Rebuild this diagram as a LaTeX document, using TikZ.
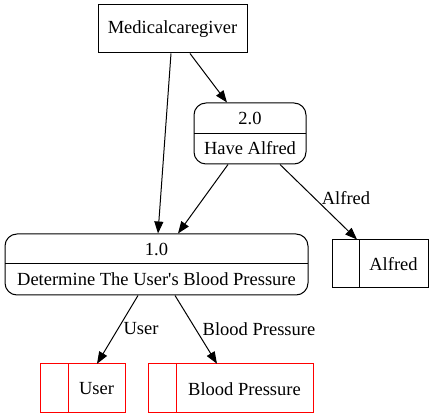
\documentclass[tikz,border=0pt]{standalone}
\usepackage{fontspec}
\setmainfont{Liberation Serif}
\usetikzlibrary{arrows.meta,calc}
\definecolor{storered}{RGB}{255,0,0}
\begin{document}
\begin{tikzpicture}[x=1pt,y=-1pt,
  every node/.style={font=\fontsize{18.5}{20}\selectfont, inner sep=0pt},
  entity/.style={draw, line width=1pt, minimum width=149pt, minimum height=48pt},
  proc/.style={draw, line width=1pt, rounded corners=12pt},
  store/.style={minimum height=48pt},
  redline/.style={draw=storered, line width=1pt},
  flow/.style={line width=1pt, -{Triangle[length=12pt,width=9pt]}}]
\useasboundingbox (0,0) rectangle (434,419);
% external entity
\node[entity] (mc) at (172.5,29) {Medicalcaregiver};
% process 2.0
\node[proc, minimum width=112pt, minimum height=61pt] (p2) at (250,133.5) {};
\draw[line width=1pt] (194,134) coordinate (p2dl) -- (306,134) coordinate (p2dr);
\node (p2a) at (250,118.5) {2.0};
\node (p2b) at (250,148.5) {Have Alfred};
% process 1.0
\node[proc, minimum width=303pt, minimum height=61pt] (p1) at (156.5,264.5) {};
\draw[line width=1pt] (5,264) coordinate (p1dl) -- (308,264) coordinate (p1dr);
\node (p1a) at (156.5,249.5) {1.0};
\node (p1b) at (156.5,279.5) {Determine The User\textquotesingle s Blood Pressure};
% stores
\node[store, draw, line width=1pt, minimum width=96pt] (sa) at (380,264) {};
\draw[line width=1pt] (359,240) coordinate (sad1) -- (359,288) coordinate (sad2);
\node (sat) at (393.5,264) {Alfred};
\node[store, minimum width=84pt] (su) at (83,388) {};
\draw[redline] (su.north west) rectangle (su.south east);
\draw[redline] (68,364) coordinate (sud1) -- (68,412) coordinate (sud2);
\node (sut) at (96.5,389) {User};
\node[store, minimum width=164pt] (sb) at (231,388) {};
\draw[redline] (sb.north west) rectangle (sb.south east);
\draw[redline] (176,364) coordinate (sbd1) -- (176,412) coordinate (sbd2);
\node (sbt) at (244.5,389) {Blood Pressure};
% flows
\draw[flow] ([xshift=-1.5pt]mc.south) -- ([xshift=1.5pt]p1.north);
\draw[flow] ([xshift=17.5pt]mc.south) -- ([xshift=-23pt]p2.north);
\draw[flow] ([xshift=-22pt]p2.south) -- ([xshift=21.5pt]p1.north);
\draw[flow] ([xshift=30pt]p2.south) -- ([xshift=-23pt]sa.north);
\node (la) at (346,198) {Alfred};
\draw[flow] ([xshift=-18.5pt]p1.south) -- ([xshift=14pt]su.north);
\node (lu) at (141,329) {User};
\draw[flow] ([xshift=18.5pt]p1.south) -- ([xshift=-14pt]sb.north);
\node (lb) at (259,329) {Blood Pressure};
\end{tikzpicture}
\end{document}
